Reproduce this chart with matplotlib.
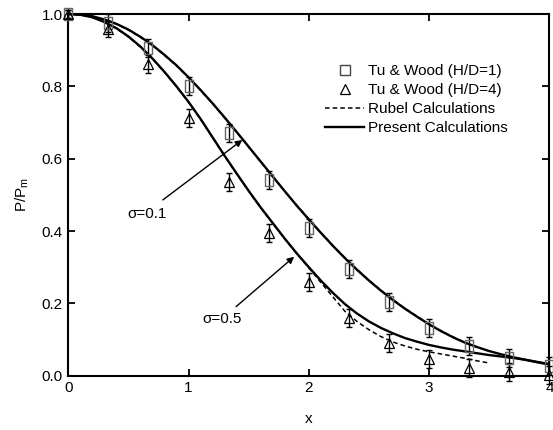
import numpy as np
import matplotlib
matplotlib.use("Agg")
import matplotlib.pyplot as plt
from matplotlib.lines import Line2D

plt.rcParams['font.family'] = ['Liberation Sans', 'DejaVu Sans']

# Tu & Wood measurements
x_exp = [0, 1/3, 2/3, 1, 4/3, 5/3, 2, 7/3, 8/3, 3, 10/3, 11/3, 4]
p_hd1 = [1.0, 0.976, 0.905, 0.801, 0.672, 0.541, 0.409, 0.295, 0.203, 0.133, 0.082, 0.050, 0.028]
p_hd4 = [1.0, 0.958, 0.861, 0.713, 0.536, 0.395, 0.260, 0.159, 0.091, 0.046, 0.020, 0.009, 0.002]
err_hd1 = [0.012, 0.025, 0.025, 0.025, 0.025, 0.025, 0.025, 0.025, 0.025, 0.025, 0.025, 0.025, 0.025]
err_hd4 = [0.012, 0.022, 0.025, 0.025, 0.025, 0.025, 0.025, 0.025, 0.025, 0.025, 0.025, 0.025, 0.025]

# present calculations, sampled every 0.1 in x
x_calc = np.linspace(0, 4, 41)
p_s01 = [1.000, 0.999, 0.994, 0.985, 0.973, 0.957, 0.937, 0.914, 0.887, 0.858,
         0.825, 0.790, 0.753, 0.714, 0.674, 0.633, 0.592, 0.551, 0.510, 0.470,
         0.432, 0.395, 0.359, 0.325, 0.293, 0.263, 0.235, 0.209, 0.185, 0.163,
         0.142, 0.123, 0.106, 0.091, 0.079, 0.068, 0.059, 0.051, 0.044, 0.037,
         0.031]
p_s05 = [1.000, 0.998, 0.991, 0.978, 0.961, 0.938, 0.910, 0.877, 0.840, 0.800,
         0.757, 0.710, 0.659, 0.608, 0.559, 0.511, 0.465, 0.422, 0.379, 0.338,
         0.300, 0.263, 0.229, 0.198, 0.172, 0.150, 0.132, 0.117, 0.104, 0.094,
         0.085, 0.078, 0.072, 0.067, 0.062, 0.057, 0.053, 0.049, 0.044, 0.038,
         0.032]

# Rubel calculations
x_rub = np.linspace(0, 3.5, 36)
p_rub01 = [1.000, 0.999, 0.994, 0.985, 0.972, 0.956, 0.936, 0.913, 0.886, 0.857,
           0.824, 0.789, 0.752, 0.713, 0.673, 0.632, 0.591, 0.550, 0.510, 0.471,
           0.433, 0.396, 0.360, 0.326, 0.294, 0.264, 0.236, 0.210, 0.186, 0.164,
           0.143, 0.124, 0.107, 0.092, 0.079, 0.068]
p_rub05 = [1.000, 0.998, 0.991, 0.978, 0.960, 0.937, 0.909, 0.876, 0.839, 0.799,
           0.756, 0.709, 0.658, 0.607, 0.558, 0.510, 0.464, 0.421, 0.378, 0.337,
           0.298, 0.258, 0.218, 0.178, 0.150, 0.127, 0.108, 0.093, 0.082, 0.073,
           0.066, 0.060, 0.054, 0.048, 0.041, 0.035]

fig = plt.figure(figsize=(5.53, 4.30), dpi=100)
ax = fig.add_axes([0.1235, 0.1263, 0.870, 0.841])

ax.plot(x_calc, p_s01, color='black', lw=1.7)
ax.plot(x_calc, p_s05, color='black', lw=1.7)
ax.plot(x_rub, p_rub01, color='black', lw=1.1, ls=(0, (3, 2)))
ax.plot(x_rub, p_rub05, color='black', lw=1.1, ls=(0, (3, 2)))

# tall open rectangle for the H/D=1 points
rect = [(-0.35, -0.5), (0.35, -0.5), (0.35, 0.5), (-0.35, 0.5), (-0.35, -0.5)]

ax.errorbar(x_exp, p_hd1, yerr=err_hd1, fmt='none', ecolor='black',
            elinewidth=1.0, capsize=2.5, capthick=1.0, clip_on=False, zorder=3)
ax.plot(x_exp, p_hd1, ls='none', marker=rect, mfc='none', mec='#666666', mew=1.0,
        ms=9, clip_on=False, zorder=4)
ax.errorbar(x_exp, p_hd4, yerr=err_hd4, fmt='none', ecolor='black',
            elinewidth=1.0, capsize=2.5, capthick=1.0, clip_on=False, zorder=3)
ax.plot(x_exp, p_hd4, ls='none', marker='^', mfc='none', mec='black', mew=0.9,
        ms=6.5, clip_on=False, zorder=4)

arrow = dict(arrowstyle='-|>', color='black', lw=1.0, mutation_scale=10,
             shrinkA=0, shrinkB=0)
ax.text(0.495, 0.436, 'σ=0.1', fontsize=11)
ax.annotate('', xy=(1.447, 0.652), xytext=(0.786, 0.486), arrowprops=arrow)
ax.text(1.116, 0.147, 'σ=0.5', fontsize=11)
ax.annotate('', xy=(1.878, 0.329), xytext=(1.395, 0.191), arrowprops=arrow)

ax.set_xlim(0, 4)
ax.set_ylim(0, 1.0)
ax.set_xticks([0, 1, 2, 3, 4])
ax.set_yticks([0.0, 0.2, 0.4, 0.6, 0.8, 1.0])
ax.set_yticklabels(['0.0', '0.2', '0.4', '0.6', '0.8', '1.0'])
ax.tick_params(direction='in', top=True, right=True, length=5, width=1.3,
               labelsize=11, pad=4)
for s in ax.spines.values():
    s.set_linewidth(1.5)

ax.set_xlabel('x', fontsize=11, labelpad=12)
ax.set_ylabel('P/P$_{\\mathregular{m}}$', fontsize=11, labelpad=8)

handles = [
    Line2D([], [], ls='none', marker='s', mfc='none', mec='#444444', mew=1.0, ms=7),
    Line2D([], [], ls='none', marker='^', mfc='none', mec='black', mew=0.9, ms=7),
    Line2D([], [], color='black', lw=1.1, ls=(0, (3, 2))),
    Line2D([], [], color='black', lw=1.7),
]
labels = ['Tu & Wood (H/D=1)', 'Tu & Wood (H/D=4)', 'Rubel Calculations',
          'Present Calculations']
ax.legend(handles, labels, loc='upper left', bbox_to_anchor=(0.533, 0.861),
          frameon=False, fontsize=11, handlelength=2.6, handletextpad=0.25,
          labelspacing=0.33, borderpad=0, borderaxespad=0)

fig.savefig('out.png', dpi=100)
